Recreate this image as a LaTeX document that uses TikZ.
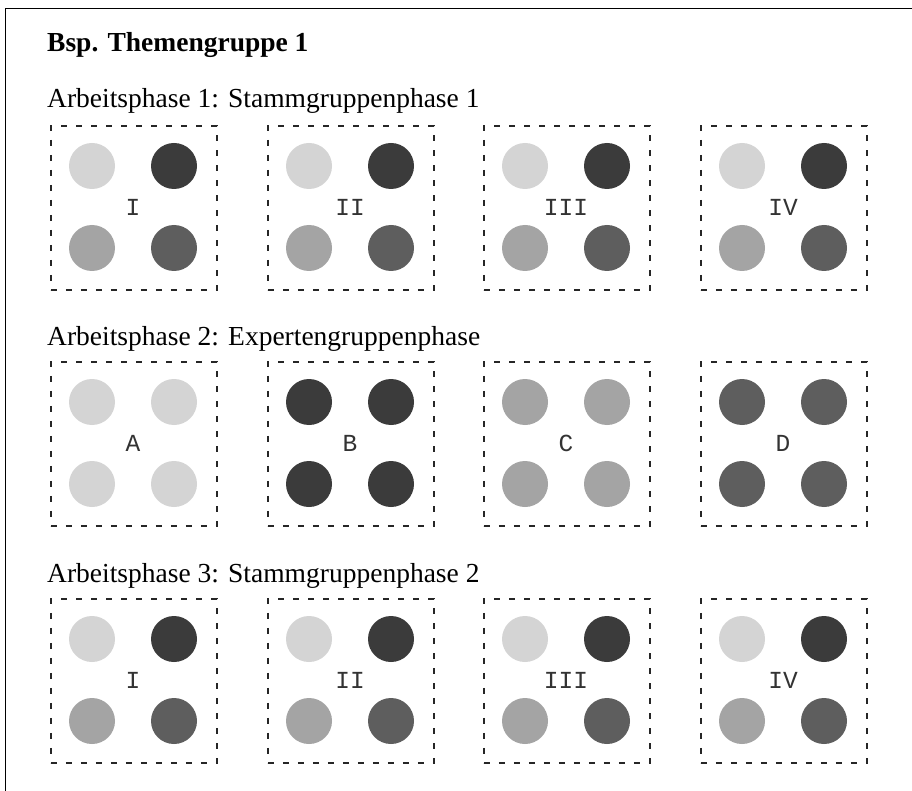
\documentclass[tikz,border=0pt]{standalone}
\usepackage{fontspec}
\setmainfont{Liberation Serif}
\setmonofont{Liberation Mono}
\definecolor{cLight}{HTML}{D4D4D4}
\definecolor{cDark}{HTML}{3B3B3B}
\definecolor{cMid}{HTML}{A4A4A4}
\definecolor{cMidDark}{HTML}{5E5E5E}
\begin{document}
\begin{tikzpicture}[x=1pt,y=-1pt,
  groupbox/.style={draw=black!85, line width=1.8pt, dash pattern=on 6pt off 9pt, minimum width=166pt, minimum height=164pt, inner sep=0pt, anchor=north west},
  dot/.style={circle, fill=#1, draw=none, minimum size=46pt, inner sep=0pt},
  glabel/.style={font=\fontsize{24.5}{26}\ttfamily, text=black!80, inner sep=0pt},
  phase/.style={font=\fontsize{27.5}{30}\selectfont, anchor=base west, inner sep=0pt},
  title/.style={font=\fontsize{27.5}{30}\selectfont\bfseries, anchor=base west, inner sep=0pt}]
\useasboundingbox (0,0) rectangle (912,791);
\fill[white] (0,0) rectangle (912,791);
\draw[line width=1.8pt] (5.5,800) -- (5.5,8.5) -- (920,8.5);

\node[title] (t) at (47,52) {Bsp. Themengruppe 1};
\node[phase] (p1) at (47,108) {Arbeitsphase 1: Stammgruppenphase 1};
\node[phase] (p2) at (47,345) {Arbeitsphase 2: Expertengruppenphase};
\node[phase] (p3) at (47,582) {Arbeitsphase 3: Stammgruppenphase 2};

% rows 1 and 3 (Stammgruppen)
\foreach \row/\ytop in {1/125, 3/598} {
  \foreach \col/\xl/\lab in {1/50/I, 2/267/II, 3/483/III, 4/700/IV} {
    \node[groupbox] (b\row\col) at (\xl,\ytop) {};
    \node[dot=cLight]    (d\row\col a) at ([shift={(42,41)}]b\row\col.north west) {};
    \node[dot=cDark]     (d\row\col b) at ([shift={(124,41)}]b\row\col.north west) {};
    \node[dot=cMid]      (d\row\col c) at ([shift={(42,123)}]b\row\col.north west) {};
    \node[dot=cMidDark]  (d\row\col d) at ([shift={(124,123)}]b\row\col.north west) {};
    \node[glabel] (l\row\col) at ([shift={(83,82)}]b\row\col.north west) {\lab};
  }
}
% row 2 (Expertengruppen)
\foreach \col/\xl/\lab/\cc in {1/50/A/cLight, 2/267/B/cDark, 3/483/C/cMid, 4/700/D/cMidDark} {
  \node[groupbox] (b2\col) at (\xl,361) {};
  \node[dot=\cc] (d2\col a) at ([shift={(42,41)}]b2\col.north west) {};
  \node[dot=\cc] (d2\col b) at ([shift={(124,41)}]b2\col.north west) {};
  \node[dot=\cc] (d2\col c) at ([shift={(42,123)}]b2\col.north west) {};
  \node[dot=\cc] (d2\col d) at ([shift={(124,123)}]b2\col.north west) {};
  \node[glabel] (l2\col) at ([shift={(83,82)}]b2\col.north west) {\lab};
}
\end{tikzpicture}
\end{document}
